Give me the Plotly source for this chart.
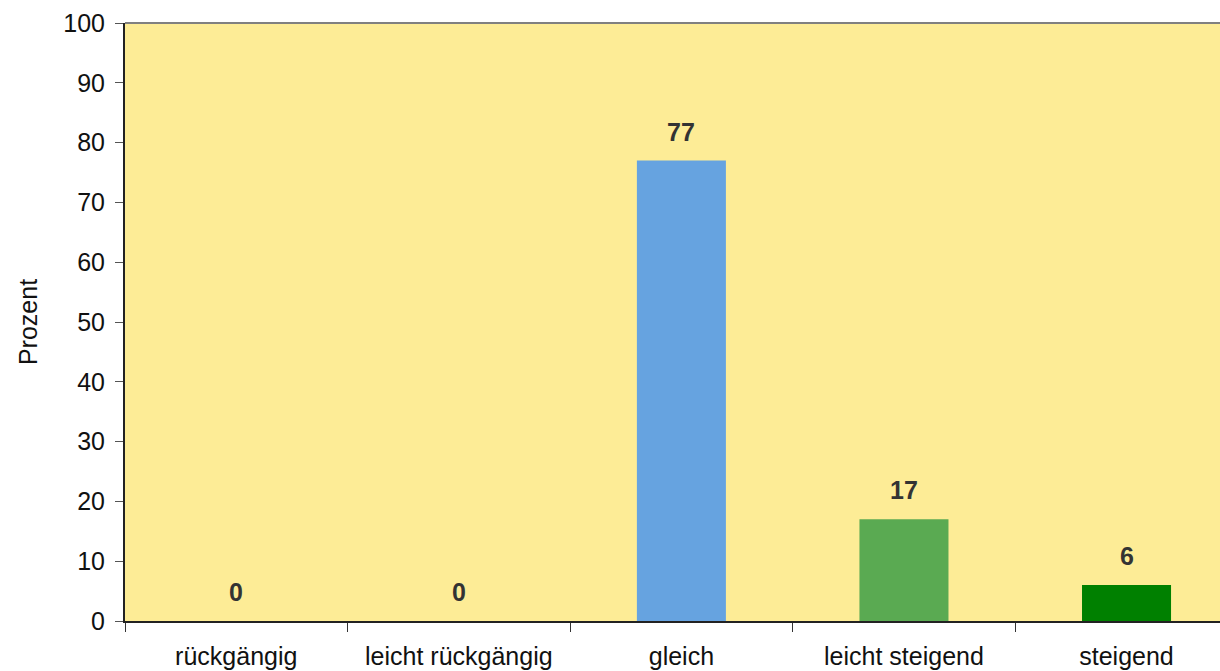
import plotly.graph_objects as go

categories = ["rückgängig", "leicht rückgängig", "gleich", "leicht steigend", "steigend"]
values = [0, 0, 77, 17, 6]
bar_colors = ["#66A3E0", "#66A3E0", "#66A3E0", "#5AAA52", "#008000"]
y_ticks = list(range(0, 101, 10))

FONT = "Liberation Sans, Arial, Helvetica, sans-serif"
FS = 25

fig = go.Figure()
fig.add_trace(go.Bar(
    x=categories, y=values, width=0.4,
    marker=dict(color=bar_colors, line=dict(width=0)),
    hoverinfo="x+y",
))

for c, v in zip(categories, values):
    fig.add_annotation(
        x=c, y=v, text=f"<b>{v}</b>", showarrow=False,
        yanchor="bottom", yshift=13,
        font=dict(family=FONT, size=FS, color="#333333"),
    )

fig.add_shape(type="line", xref="paper", yref="paper", x0=0, x1=1, y0=1, y1=1,
              line=dict(color="#808080", width=2))

fig.update_layout(
    width=1220, height=671,
    margin=dict(l=125, r=0, t=23, b=50),
    paper_bgcolor="white",
    plot_bgcolor="#FDEC96",
    font=dict(family=FONT, size=FS, color="#111111"),
    showlegend=False,
    bargap=0.6,
)

fig.update_xaxes(
    range=[-0.5, 4.42],
    tickson="boundaries",
    ticks="outside", ticklen=9, tickcolor="#333333", tickwidth=1,
    showline=True, linecolor="#222222", linewidth=2,
    showgrid=False, zeroline=False,
    ticklabelstandoff=12,
    tickfont=dict(size=FS, color="#111111"),
)
fig.update_yaxes(
    range=[0, 100], tickvals=y_ticks,
    ticks="outside", ticklen=8, tickcolor="#555555", tickwidth=1,
    showline=True, linecolor="#222222", linewidth=2,
    showgrid=False, zeroline=False,
    ticklabelstandoff=5,
    title=dict(text="Prozent", font=dict(size=FS, color="#111111"), standoff=19),
    tickfont=dict(size=FS, color="#111111"),
)

fig.write_html("out.html")
